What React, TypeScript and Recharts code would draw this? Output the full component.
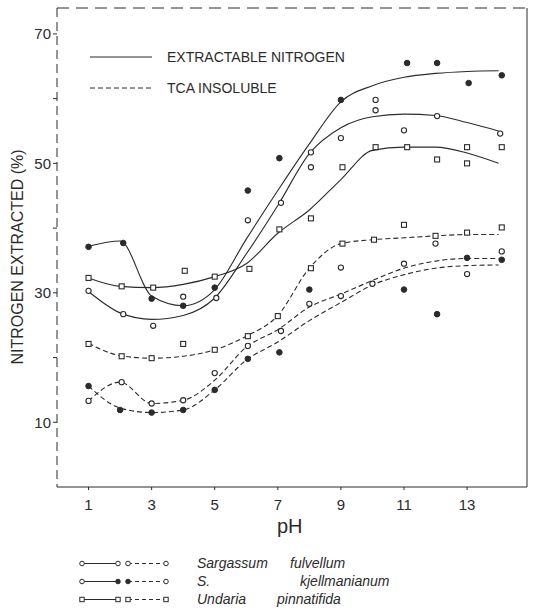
import React from 'react';
import { ComposedChart, Line, Scatter, XAxis, YAxis, ReferenceLine } from 'recharts';

// pH steps the fitted curves are read at
const phSteps = [1, 2, 3, 4, 5, 6, 7, 8, 9, 10, 11, 12, 13, 14];

// fitted curves, extractable nitrogen (solid)
const sfExtractable = [30.2, 26.9, 25.9, 26.5, 29.2, 36.0, 43.5, 51.5, 55.5, 57.2, 57.6, 57.4, 56.3, 55.0];
const skExtractable = [37.2, 38.0, 29.5, 28.0, 30.5, 38.3, 45.8, 53.0, 59.5, 62.0, 63.3, 63.9, 64.2, 64.3];
const upExtractable = [32.3, 31.0, 30.8, 31.3, 32.5, 34.5, 39.2, 42.8, 47.5, 52.0, 52.5, 52.5, 51.6, 50.0];

// fitted curves, TCA insoluble (dashed)
const sfTca = [13.3, 16.2, 12.9, 13.4, 16.5, 21.6, 24.3, 27.8, 29.8, 31.9, 33.8, 34.9, 35.3, 35.3];
const skTca = [15.6, 12.2, 11.5, 11.9, 15.0, 19.6, 22.4, 25.7, 28.5, 31.2, 32.8, 33.8, 34.2, 34.3];
const upTca = [22.2, 20.3, 19.9, 20.2, 21.2, 23.3, 26.5, 33.8, 37.6, 38.2, 38.5, 38.8, 39.0, 39.0];

// measured points [pH, %]
const sfExtPoints = [[1, 30.3], [2.1, 26.7], [3.05, 24.9], [4, 29.4], [5.05, 29.2], [6.05, 41.2], [7.1, 43.9], [8.05, 51.7], [8.05, 49.4], [9, 53.9], [10.1, 58.2], [10.1, 59.8], [11, 55.1], [12.05, 57.3], [14.05, 54.6]];
const skExtPoints = [[1, 37.1], [2.1, 37.7], [3, 29.1], [4, 28.0], [5, 30.8], [6.05, 45.8], [7.05, 50.8], [9, 59.8], [11.1, 65.5], [12.05, 65.5], [13.05, 62.4], [14.1, 63.6]];
const upExtPoints = [[1, 32.3], [2.05, 31], [3.05, 30.8], [4.05, 33.4], [5, 32.5], [6.1, 33.7], [7.05, 39.8], [8.05, 41.5], [9.05, 49.4], [10.1, 52.5], [11.1, 52.5], [12.05, 50.6], [13, 52.5], [13, 50], [14.1, 52.5]];
const sfTcaPoints = [[1, 13.3], [2.05, 16.2], [3, 12.9], [4, 13.4], [5, 17.6], [6.05, 21.8], [7.1, 24.1], [8, 28.3], [9, 29.5], [9, 33.9], [10, 31.4], [11, 34.5], [12, 37.6], [13, 32.9], [14.1, 36.4]];
const skTcaPoints = [[1, 15.6], [2, 11.9], [3, 11.5], [4, 11.9], [5, 15], [6.05, 19.8], [7.05, 20.8], [8, 30.5], [11, 30.5], [12.05, 26.7], [13, 35.4], [14.1, 35.1]];
const upTcaPoints = [[1, 22.1], [2.05, 20.2], [3, 19.9], [4, 22.1], [5, 21.2], [6.05, 23.3], [7, 26.4], [8.05, 33.8], [9.05, 37.6], [10.05, 38.2], [11, 40.5], [12, 38.8], [13, 39.3], [14.1, 40.1]];

const xTicks = [1, 3, 5, 7, 9, 11, 13];
const yTicks = [10, 20, 30, 40, 50, 60, 70];
const yLabelled = [10, 30, 50, 70];

const INK = '#2b2b2b';
const FONT = '"Liberation Sans", Arial, sans-serif';

const curve = (vals: number[]) => phSteps.map((ph, i) => ({ ph, v: vals[i] }));
const pts = (list: number[][]) => list.map(([ph, v]) => ({ ph, v }));

function OpenDot(props: any) {
  const { cx, cy } = props;
  if (cx == null || cy == null) return null;
  return <circle cx={cx} cy={cy} r={2.6} fill="#fff" stroke={INK} strokeWidth={1.1} />;
}
function FilledDot(props: any) {
  const { cx, cy } = props;
  if (cx == null || cy == null) return null;
  return <circle cx={cx} cy={cy} r={2.8} fill={INK} stroke={INK} />;
}
function SquareDot(props: any) {
  const { cx, cy } = props;
  if (cx == null || cy == null) return null;
  return <rect x={cx - 2.5} y={cy - 2.5} width={5} height={5} fill="#fff" stroke={INK} strokeWidth={1.1} />;
}

function Sample({ kind }: { kind: 'open' | 'filled' | 'square' }) {
  const mark = (x: number, filled: boolean) =>
    kind === 'square' ? (
      <rect x={x - 2.2} y={4.3} width={4.4} height={4.4} fill="#fff" stroke={INK} strokeWidth={1} />
    ) : (
      <circle cx={x} cy={6.5} r={2.3} fill={filled ? INK : '#fff'} stroke={INK} strokeWidth={1} />
    );
  return (
    <svg width={92} height={13} style={{ position: 'absolute', left: 78, top: 0 }}>
      <line x1={4} y1={6.5} x2={40} y2={6.5} stroke={INK} strokeWidth={1} />
      <line x1={50} y1={6.5} x2={88} y2={6.5} stroke={INK} strokeWidth={1} strokeDasharray="4 3" />
      {mark(4, false)}
      {mark(40, kind === 'filled')}
      {mark(50, kind === 'filled')}
      {mark(88, false)}
    </svg>
  );
}

const legendRows = [
  { kind: 'open' as const, first: 'Sargassum', second: 'fulvellum', secondX: 290, top: 557 },
  { kind: 'filled' as const, first: 'S.', second: 'kjellmanianum', secondX: 300, top: 575 },
  { kind: 'square' as const, first: 'Undaria', second: 'pinnatifida', secondX: 277, top: 593 },
];

export default function App() {
  return (
    <div style={{ position: 'absolute', left: 0, top: 0, width: 538, height: 614, background: '#fff', fontFamily: FONT }}>
      <ComposedChart width={538} height={614} margin={{ top: 8, right: 11, left: 12, bottom: 97 }}>
        <XAxis
          type="number"
          dataKey="ph"
          domain={[0, 14.9]}
          allowDataOverflow
          ticks={xTicks}
          interval={0}
          height={30}
          tick={{ fill: INK, fontSize: 15, fontFamily: FONT }}
          tickLine={{ stroke: INK }}
          tickSize={3}
          tickMargin={9}
          axisLine={{ stroke: INK, strokeWidth: 1 }}
        />
        <YAxis
          type="number"
          domain={[0, 74]}
          allowDataOverflow
          ticks={yTicks}
          interval={0}
          width={45}
          tickFormatter={(v: number) => (yLabelled.includes(v) ? String(v) : '')}
          tick={{ fill: INK, fontSize: 15, fontFamily: FONT }}
          tickLine={{ stroke: INK }}
          tickSize={4}
          tickMargin={2}
          axisLine={{ stroke: INK, strokeWidth: 1, strokeDasharray: '9 5' }}
        />
        <ReferenceLine y={74} stroke={INK} strokeWidth={1} strokeDasharray="12 7" />
        <ReferenceLine x={14.9} stroke={INK} strokeWidth={1} />

        <Line data={curve(skExtractable)} dataKey="v" type="monotone" stroke={INK} strokeWidth={1.1} dot={false} isAnimationActive={false} />
        <Line data={curve(sfExtractable)} dataKey="v" type="monotone" stroke={INK} strokeWidth={1.1} dot={false} isAnimationActive={false} />
        <Line data={curve(upExtractable)} dataKey="v" type="monotone" stroke={INK} strokeWidth={1.1} dot={false} isAnimationActive={false} />
        <Line data={curve(upTca)} dataKey="v" type="monotone" stroke={INK} strokeWidth={1.1} strokeDasharray="5 3" dot={false} isAnimationActive={false} />
        <Line data={curve(sfTca)} dataKey="v" type="monotone" stroke={INK} strokeWidth={1.1} strokeDasharray="5 3" dot={false} isAnimationActive={false} />
        <Line data={curve(skTca)} dataKey="v" type="monotone" stroke={INK} strokeWidth={1.1} strokeDasharray="5 3" dot={false} isAnimationActive={false} />

        <Scatter data={pts(sfExtPoints)} dataKey="v" shape={<OpenDot />} isAnimationActive={false} />
        <Scatter data={pts(sfTcaPoints)} dataKey="v" shape={<OpenDot />} isAnimationActive={false} />
        <Scatter data={pts(upExtPoints)} dataKey="v" shape={<SquareDot />} isAnimationActive={false} />
        <Scatter data={pts(upTcaPoints)} dataKey="v" shape={<SquareDot />} isAnimationActive={false} />
        <Scatter data={pts(skExtPoints)} dataKey="v" shape={<FilledDot />} isAnimationActive={false} />
        <Scatter data={pts(skTcaPoints)} dataKey="v" shape={<FilledDot />} isAnimationActive={false} />
      </ComposedChart>

      {/* y axis title */}
      <div
        style={{
          position: 'absolute', left: 18, top: 257, transform: 'translate(-50%, -50%) rotate(-90deg)',
          whiteSpace: 'nowrap', fontSize: 16, color: INK,
        }}
      >
        NITROGEN EXTRACTED (%)
      </div>
      <div style={{ position: 'absolute', left: 277, top: 515, fontSize: 20, color: INK }}>pH</div>

      {/* inner legend */}
      <svg width={70} height={12} style={{ position: 'absolute', left: 88, top: 51 }}>
        <line x1={2} y1={6} x2={64} y2={6} stroke={INK} strokeWidth={1} />
      </svg>
      <svg width={70} height={12} style={{ position: 'absolute', left: 88, top: 82 }}>
        <line x1={2} y1={6} x2={64} y2={6} stroke={INK} strokeWidth={1} strokeDasharray="5 3" />
      </svg>
      <div style={{ position: 'absolute', left: 167, top: 49, fontSize: 14, color: INK, whiteSpace: 'nowrap' }}>EXTRACTABLE NITROGEN</div>
      <div style={{ position: 'absolute', left: 167, top: 80, fontSize: 14, color: INK, whiteSpace: 'nowrap' }}>TCA INSOLUBLE</div>

      {/* species legend */}
      {legendRows.map((r) => (
        <div key={r.first} style={{ position: 'absolute', left: 0, top: r.top, width: 538, height: 16 }}>
          <Sample kind={r.kind} />
          <span style={{ position: 'absolute', left: 197, top: -2, fontSize: 14, fontStyle: 'italic', color: INK }}>{r.first}</span>
          <span style={{ position: 'absolute', left: r.secondX, top: -2, fontSize: 14, fontStyle: 'italic', color: INK }}>{r.second}</span>
        </div>
      ))}
    </div>
  );
}
